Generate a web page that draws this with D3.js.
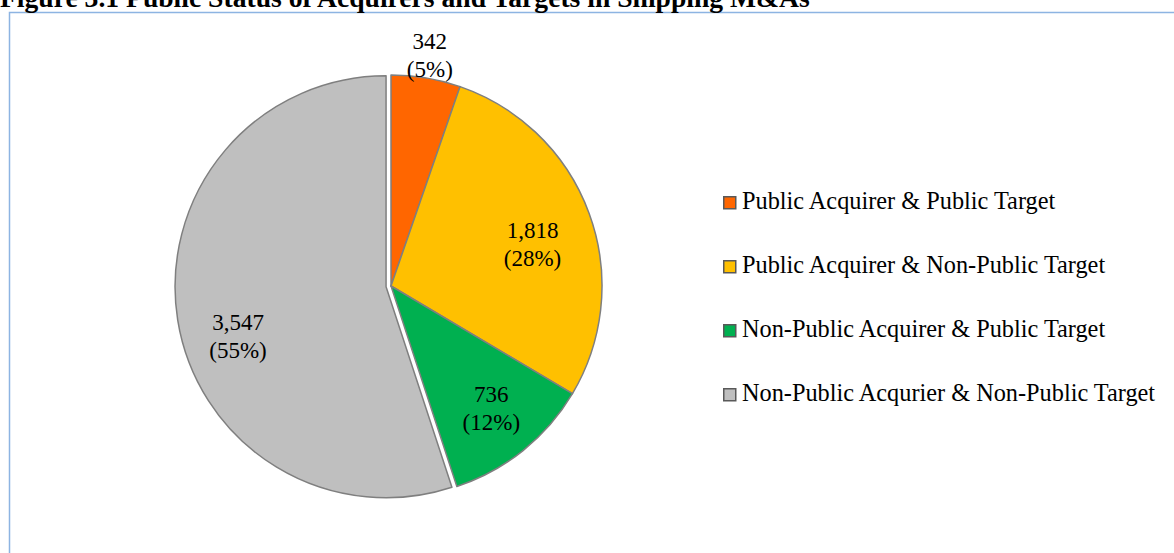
<!DOCTYPE html>
<html>
<head>
<meta charset="utf-8">
<script src="https://cdn.jsdelivr.net/npm/d3@7"></script>
<style>
  body { margin: 0; background: #fff; }
  svg text { font-family: "Liberation Serif", "Times New Roman", serif; fill: #000; }
</style>
</head>
<body>
<svg class="svg" width="1174" height="553"></svg>
<script>
var categories = ['Public Acquirer & Public Target', 'Public Acquirer & Non-Public Target',
    'Non-Public Acquirer & Public Target', 'Non-Public Acqurier & Non-Public Target'];
var values = [342, 1818, 736, 3547];
var valueLabels = ['342', '1,818', '736', '3,547'];
var pctLabels = ['(5%)', '(28%)', '(12%)', '(55%)'];
var colormap = ['#FF6600', '#FFC000', '#00B050', '#BFBFBF'];
var title = 'Figure 3.1 Public Status of Acquirers and Targets in Shipping M&As';

var svg = d3.select('.svg');
const width = 1174, height = 553;

// chart frame
svg.append('rect').attr('x', 9.5).attr('y', 12.5).attr('width', width).attr('height', height)
    .attr('fill', 'none').attr('stroke', '#8DB4E2').attr('stroke-width', 1.5);

// title, fitted to its width in the picture (cut at the top like the scan)
var t = svg.append('text').attr('x', 0).attr('y', 7).attr('font-weight', 'bold')
    .attr('font-size', 24).text(title);
var tw = t.node().getComputedTextLength();
t.attr('font-size', 24 * 810 / tw);

var cx = 391, cy = 286, R = 211;
var pie = d3.pie().sort(null).value(function (d) { return d; });
var arcs = pie(values);
var arc = d3.arc().innerRadius(0).outerRadius(R);
var explode = [0, 0, 0, 5];

function shift(d, i) {
    var a = (d.startAngle + d.endAngle) / 2;
    return [Math.sin(a) * explode[i], -Math.cos(a) * explode[i]];
}

var g = svg.append('g').attr('transform', 'translate(' + cx + ',' + cy + ')');
g.selectAll('path').data(arcs).enter().append('path')
    .attr('d', arc)
    .attr('transform', function (d, i) { return 'translate(' + shift(d, i) + ')'; })
    .attr('fill', function (d, i) { return colormap[i]; })
    .attr('stroke', '#7F7F7F').attr('stroke-width', 1.5).attr('stroke-linejoin', 'round');

// data labels ("best fit"): radius and small angle nudge per slice
var labelR = [R + 23, R * 0.70, R * 0.75, R * 0.74];
var labelNudge = [0, 3.5, -0.6, -9.4];
var lab = g.append('g').attr('class', 'labels');
arcs.forEach(function (d, i) {
    var a = (d.startAngle + d.endAngle) / 2 + labelNudge[i] * Math.PI / 180;
    var s = shift(d, i);
    var x = Math.sin(a) * labelR[i] + s[0], y = -Math.cos(a) * labelR[i] + s[1];
    var tx = lab.append('text').attr('text-anchor', 'middle').attr('font-size', 23)
        .attr('x', x).attr('y', y - 6);
    tx.append('tspan').attr('x', x).text(valueLabels[i]);
    tx.append('tspan').attr('x', x).attr('dy', 28).text(pctLabels[i]);
});

// legend
var legend = svg.append('g').attr('class', 'legend').attr('transform', 'translate(723,196)');
var row = legend.selectAll('g').data(categories).enter().append('g')
    .attr('transform', function (d, i) { return 'translate(0,' + (i * 64) + ')'; });
row.append('rect').attr('x', 0.75).attr('y', 0.75).attr('width', 12).attr('height', 12)
    .attr('fill', function (d, i) { return colormap[i]; })
    .attr('stroke', '#595959').attr('stroke-width', 1.5);
row.append('text').attr('x', 19).attr('y', 13).attr('font-size', 24.3).text(function (d) { return d; });
</script>
</body>
</html>
